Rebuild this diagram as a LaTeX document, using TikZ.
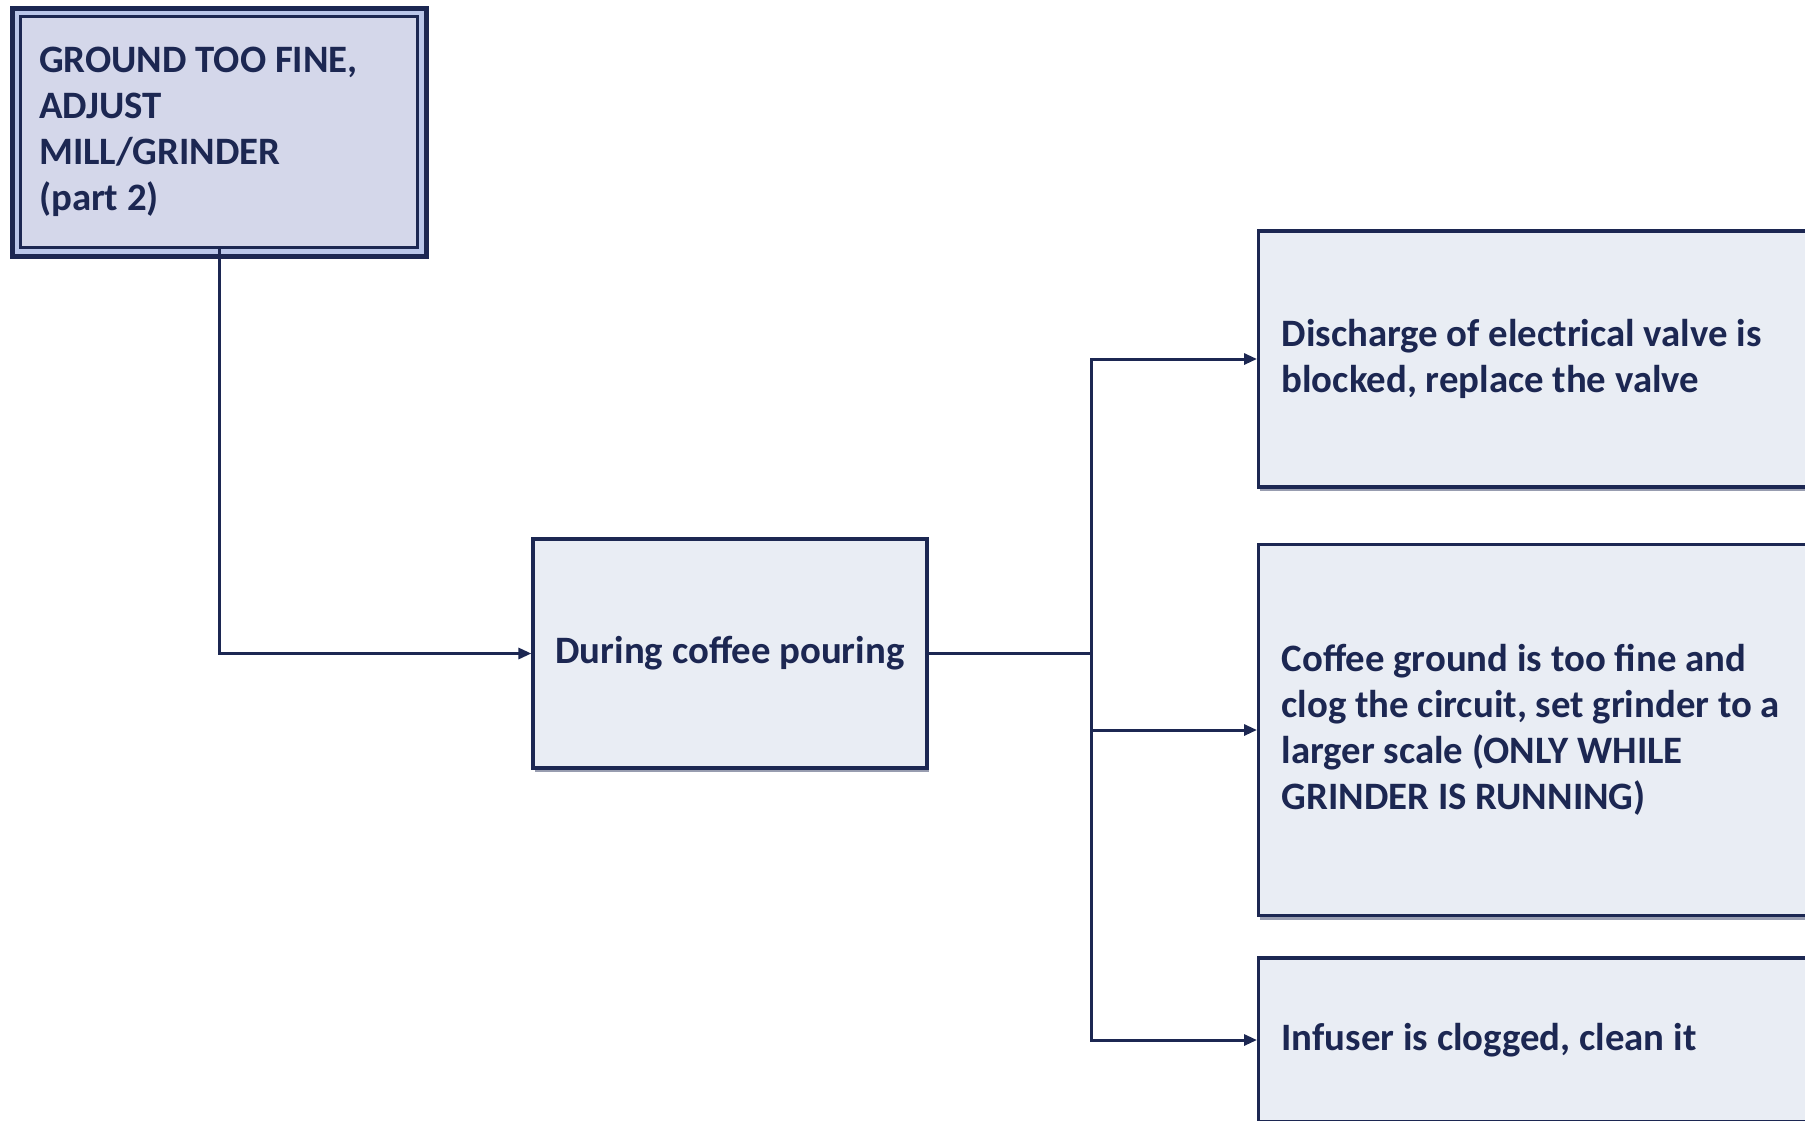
\documentclass[tikz,border=0pt]{standalone}
\usepackage{fontspec}
\setmainfont{Carlito}
\usetikzlibrary{arrows.meta,shadows}
\definecolor{navy}{HTML}{1C2752}
\definecolor{boxfill}{HTML}{E9EDF4}
\definecolor{topfill}{HTML}{D4D7EA}
\definecolor{gapblue}{HTML}{BAC6EA}
\newcommand{\natws}{\spaceskip=\fontdimen2\font plus 0.05em minus 0.02em\relax}
\begin{document}
\begin{tikzpicture}[x=1pt,y=-1pt,
  txt/.style={text=navy, font=\fontsize{38.8}{46}\selectfont\bfseries},
  box/.style={txt, draw=navy, line width=3.2pt, fill=boxfill,
    drop shadow={shadow xshift=1.5pt, shadow yshift=-4pt, opacity=0.45, fill=navy}},
  rbox/.style={box, anchor=west, inner xsep=23pt, inner ysep=0pt,
    text width=560pt, align=left},
  conn/.style={draw=navy, line width=3pt},
  arr/.style={conn, -{Triangle[length=13pt,width=11pt]}}]
\path[use as bounding box] (0,0) rectangle (1805,1120);
\clip (0,0) rectangle (1805,1120);
\fill[white] (0,0) rectangle (1805,1120);

% top-left double framed box
\fill[navy, opacity=0.3] (14,13) rectangle (427,259);
\node[txt, draw=navy, line width=2.2pt, fill=topfill, anchor=north west,
  minimum width=396pt, minimum height=230pt, inner xsep=18pt, inner ysep=0pt,
  text width=360pt, align=left] (top) at (20,16)
  {\natws GROUND TOO FINE,\\ADJUST\\MILL/GRINDER\\(part 2)};
\fill[gapblue, even odd rule] ([shift={(-8pt,8pt)}]top.north west) rectangle ([shift={(8pt,-8pt)}]top.south east)
  (top.north west) rectangle (top.south east);
\draw[navy, line width=5pt] ([shift={(-8pt,8pt)}]top.north west) rectangle ([shift={(8pt,-8pt)}]top.south east);
\draw[navy, line width=2.2pt] (top.north west) rectangle (top.south east);

% middle box
\node[box, minimum width=394pt, minimum height=229pt, inner sep=0pt] (mid) at (730,653.5)
  {During coffee pouring};

% right boxes
\node[rbox, minimum height=256pt] (r1) at (1257,359)
  {\natws Discharge of electrical valve is\\blocked, replace the valve};
\node[rbox, minimum height=371pt] (r2) at (1257,730)
  {\natws Coffee ground is too fine and\\clog the circuit, set grinder to a\\larger scale (ONLY WHILE\\GRINDER IS RUNNING)};
\node[rbox, minimum height=164pt] (r3) at (1257,1040)
  {\natws Infuser is clogged, clean it};

% connectors
\coordinate (sp) at (1091,653.5);
\draw[arr] (top.south) |- (mid.west);
\draw[conn] (mid.east) -- (sp);
\draw[arr] (sp) |- (r1.west);
\draw[arr] (sp) |- (r2.west);
\draw[arr] (sp) |- (r3.west);
\end{tikzpicture}
\end{document}
